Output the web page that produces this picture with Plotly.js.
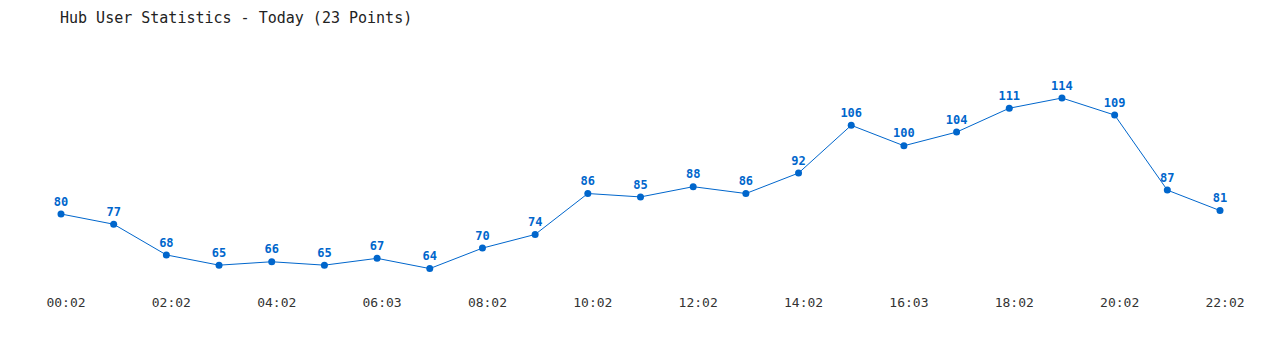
<!DOCTYPE html>
<html>
<head>
<meta charset="utf-8">
<script src="https://cdn.plot.ly/plotly-3.0.1.min.js"></script>
<style>html,body{margin:0;padding:0;background:#fff;}#chart{width:1280px;height:350px;}</style>
</head>
<body>
<div id="chart"></div>
<script>
var times = ["00:02","01:02","02:02","03:02","04:02","05:02","06:03","07:02","08:02","09:02","10:02","11:02","12:02","13:02","14:02","15:02","16:03","17:02","18:02","19:02","20:02","21:02","22:02"];
var users = [80,77,68,65,66,65,67,64,70,74,86,85,88,86,92,106,100,104,111,114,109,87,81];
var tickLabels = ["00:02","02:02","04:02","06:03","08:02","10:02","12:02","14:02","16:03","18:02","20:02","22:02"];

var trace = {
  x: times,
  y: users,
  type: 'scatter',
  mode: 'lines+markers+text',
  text: users.map(String),
  textposition: 'top center',
  textfont: {family: 'DejaVu Sans Mono, monospace', size: 12, color: '#0066cc', weight: 'bold'},
  line: {color: '#0066cc', width: 1},
  marker: {color: '#0066cc', size: 7},
  cliponaxis: false,
  hoverinfo: 'x+y'
};

var layout = {
  width: 1280,
  height: 350,
  paper_bgcolor: '#ffffff',
  plot_bgcolor: '#ffffff',
  margin: {l: 61, r: 60, t: 40, b: 60},
  showlegend: false,
  title: {
    text: 'Hub User Statistics - Today (23 Points)',
    font: {family: 'DejaVu Sans Mono, monospace', size: 15, color: '#222'},
    xref: 'container', yref: 'container',
    x: 60/1280, xanchor: 'left',
    y: 1 - 18/350, yanchor: 'middle'
  },
  xaxis: {
    type: 'category',
    range: [0, 22],
    tickvals: tickLabels,
    ticktext: tickLabels,
    showgrid: false, zeroline: false, showline: false,
    ticks: '',
    ticklabelshift: 5,
    ticklabelstandoff: 3,
    tickfont: {family: 'DejaVu Sans Mono, monospace', size: 13, color: '#333'}
  },
  yaxis: {
    range: [57.72, 131.0],
    showgrid: false, zeroline: false, showline: false,
    showticklabels: false, ticks: ''
  }
};

Plotly.newPlot('chart', [trace], layout, {displayModeBar: false, staticPlot: true});
</script>
</body>
</html>
